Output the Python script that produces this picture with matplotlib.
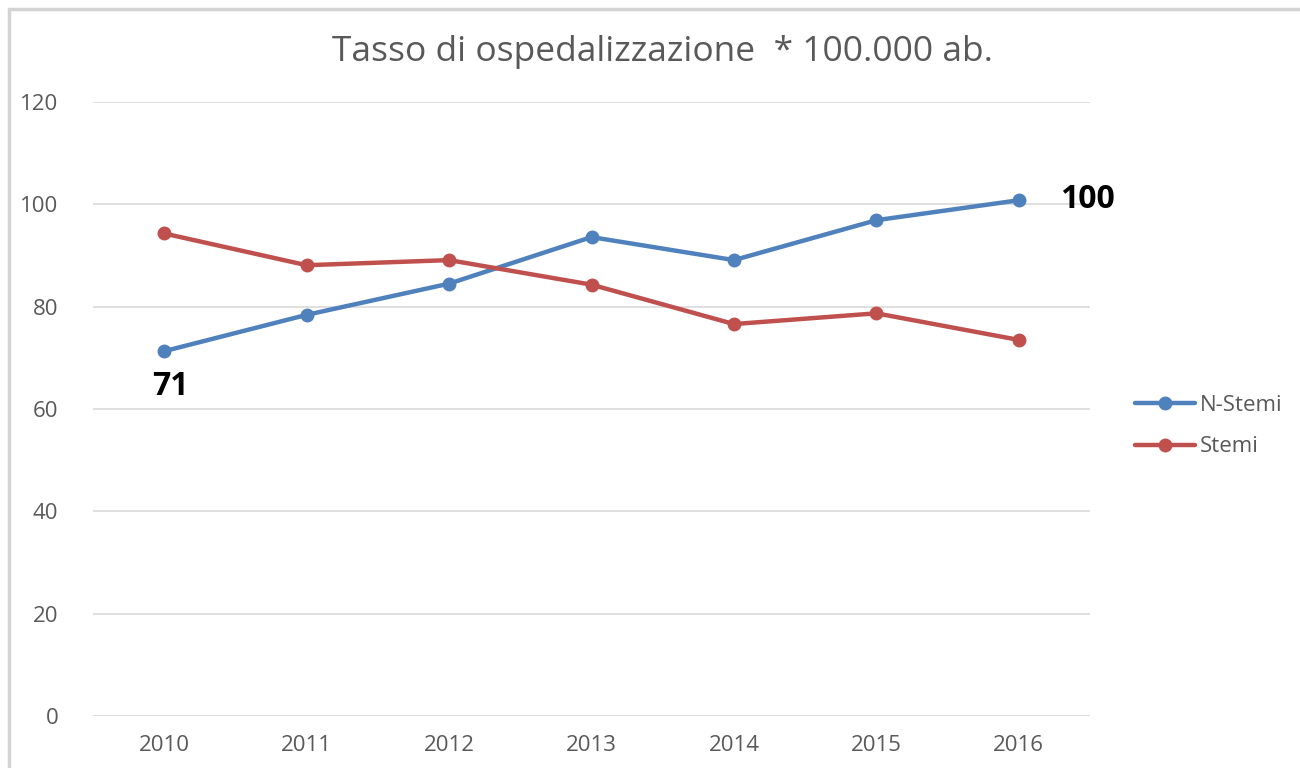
import matplotlib
matplotlib.use("Agg")
import matplotlib.pyplot as plt
from matplotlib.patches import Rectangle

years = ["2010", "2011", "2012", "2013", "2014", "2015", "2016"]
n_stemi = [71.3, 78.4, 84.5, 93.6, 89.1, 96.9, 100.8]
stemi = [94.3, 88.1, 89.1, 84.3, 76.6, 78.7, 73.5]
yticks = [0, 20, 40, 60, 80, 100, 120]
title = "Tasso di ospedalizzazione  * 100.000 ab."
labels = ["N-Stemi", "Stemi"]
annot_first = "71"
annot_last = "100"

plt.rcParams['font.family'] = ['Open Sans', 'DejaVu Sans']

fig = plt.figure(figsize=(13, 7.68), dpi=100)
fig.patches.append(Rectangle((9/1300, -0.1), 1.2, (768-9)/768 + 0.1,
                             transform=fig.transFigure, fill=False,
                             edgecolor="#D4D4D4", linewidth=2.5))

ax = fig.add_axes([93/1300, 52/768, 997/1300, 614/768])
x = list(range(len(years)))
ax.plot(x, n_stemi, color="#4F81BD", linewidth=3.2, marker="o", markersize=9,
        label=labels[0], solid_capstyle="round")
ax.plot(x, stemi, color="#C0504D", linewidth=3.2, marker="o", markersize=9,
        label=labels[1], solid_capstyle="round")

ax.set_xlim(-0.5, len(years) - 0.5)
ax.set_ylim(0, 120)
ax.set_yticks(yticks)
ax.set_xticks(x)
ax.set_xticklabels(years)
ax.grid(axis="y", color="#D9D9D9", linewidth=1.2)
ax.set_axisbelow(True)
for s in ax.spines.values():
    s.set_visible(False)
ax.tick_params(axis="both", length=0, colors="#595959", labelsize=16)
ax.tick_params(axis="y", pad=25)
ax.tick_params(axis="x", pad=14)

ax.text(x[0] + 0.04, n_stemi[0] - 7.0, annot_first, fontsize=23, fontweight="bold",
        color="black", ha="center", va="center")
ax.text(x[-1] + 0.48, n_stemi[-1] + 0.2, annot_last, fontsize=23, fontweight="bold",
        color="black", ha="center", va="center")

fig.text(662/1300, 1 - 52/768, title, fontsize=25.5, color="#595959",
         ha="center", va="center")

leg = fig.legend(loc="upper left", bbox_to_anchor=(1135/1300, 1 - 395/768),
                 frameon=False, fontsize=16, handlelength=2.7, handletextpad=0.2,
                 labelspacing=0.92, labelcolor="#595959",
                 borderpad=0, borderaxespad=0)

fig.savefig("out.png", dpi=100)
